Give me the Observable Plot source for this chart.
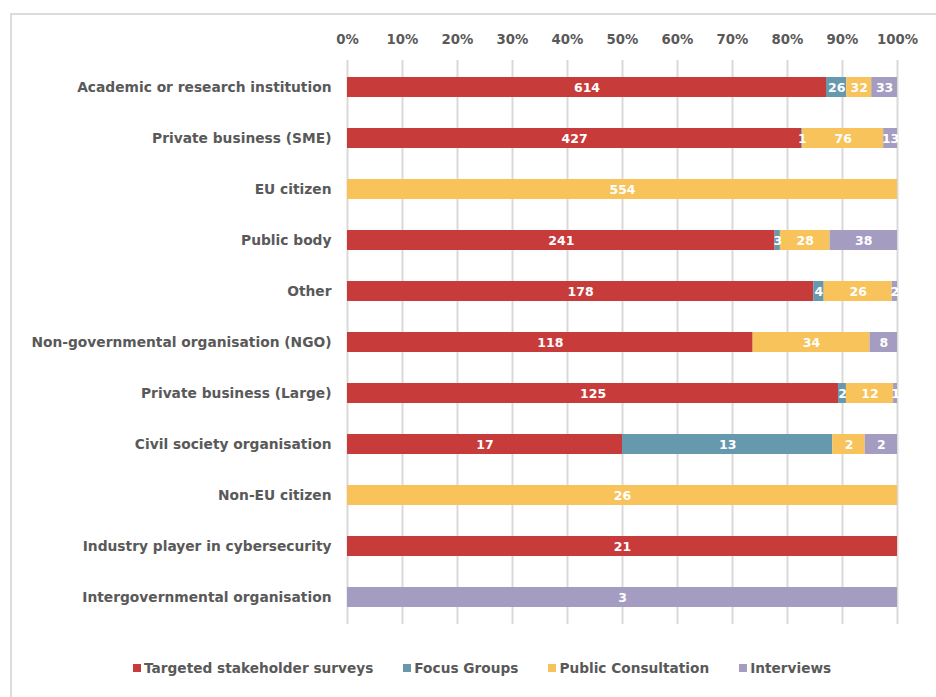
<!DOCTYPE html>
<html><head><meta charset="utf-8">
<script src="https://cdn.jsdelivr.net/npm/d3@7"></script>
<script src="https://cdn.jsdelivr.net/npm/@observablehq/plot@0.6"></script>
<style>
body{margin:0;background:#fff;font-family:"DejaVu Sans",sans-serif;}
#frame{position:absolute;left:10px;top:13px;width:1000px;height:800px;border:2px solid #dcdcdc;box-sizing:border-box;}
#chart{position:absolute;left:0;top:0;}
#legend{position:absolute;top:660px;left:0;width:936px;display:flex;justify-content:flex-start;padding-left:133px;box-sizing:border-box;font-weight:bold;font-size:13.7px;color:#595959;}
#legend .item{display:flex;align-items:center;margin-right:30px;white-space:nowrap;}
#legend .sw{width:8px;height:8px;margin-right:3px;display:inline-block;}
</style></head>
<body>
<div id="frame"></div>
<div id="chart"></div>
<div id="legend"></div>
<script>
const categories = [
  "Academic or research institution",
  "Private business (SME)",
  "EU citizen",
  "Public body",
  "Other",
  "Non-governmental organisation (NGO)",
  "Private business (Large)",
  "Civil society organisation",
  "Non-EU citizen",
  "Industry player in cybersecurity",
  "Intergovernmental organisation"
];
const seriesNames = ["Targeted stakeholder surveys", "Focus Groups", "Public Consultation", "Interviews"];
const seriesColors = ["#C83B3B", "#6699AE", "#F7C35A", "#A59CC2"];
const surveys    = [614, 427,   0, 241, 178, 118, 125, 17,  0, 21, 0];
const focusGroups= [ 26,   1,   0,   3,   4,   0,   2, 13,  0,  0, 0];
const publicCons = [ 32,  76, 554,  28,  26,  34,  12,  2, 26,  0, 0];
const interviews = [ 33,  13,   0,  38,   2,   8,   1,  2,  0,  0, 3];
const xTicks = [0, 0.1, 0.2, 0.3, 0.4, 0.5, 0.6, 0.7, 0.8, 0.9, 1];

const seriesValues = [surveys, focusGroups, publicCons, interviews];
const data = [];
categories.forEach((c, i) => {
  seriesNames.forEach((s, j) => {
    data.push({category: c, series: s, value: seriesValues[j][i]});
  });
});
const nonzero = data.filter(d => d.value > 0);

const font = "'DejaVu Sans', sans-serif";
const chart = Plot.plot({
  width: 936,
  height: 640,
  marginLeft: 347,
  marginRight: 39,
  marginTop: 60,
  marginBottom: 16,
  style: {fontFamily: font, fontWeight: "bold", color: "#595959", background: "transparent"},
  x: {domain: [0, 1]},
  y: {type: "band", domain: categories, paddingInner: 0.61, paddingOuter: 0.305},
  color: {domain: seriesNames, range: seriesColors},
  marks: [
    Plot.ruleX(xTicks, {stroke: "#d9d9d9", strokeWidth: 2}),
    Plot.barX(nonzero, Plot.stackX({x: "value", y: "category", fill: "series", z: "series", offset: "normalize", order: seriesNames})),
    Plot.text(nonzero, Plot.stackX({x: "value", y: "category", z: "series", text: d => String(d.value), offset: "normalize", order: seriesNames, fill: "white", fontSize: 12.5, fontWeight: "bold"})),
    Plot.axisX({anchor: "top", ticks: xTicks, tickFormat: d => Math.round(d * 100) + "%", tickSize: 0, tickPadding: 17, fontSize: 13.3, label: null}),
    Plot.axisY({tickSize: 0, tickPadding: 16, fontSize: 13.8, label: null})
  ]
});
document.getElementById("chart").appendChild(chart);

const legend = document.getElementById("legend");
seriesNames.forEach((s, j) => {
  const it = document.createElement("div");
  it.className = "item";
  const sw = document.createElement("span");
  sw.className = "sw";
  sw.style.background = seriesColors[j];
  it.appendChild(sw);
  it.appendChild(document.createTextNode(s));
  legend.appendChild(it);
});
</script>
</body></html>
